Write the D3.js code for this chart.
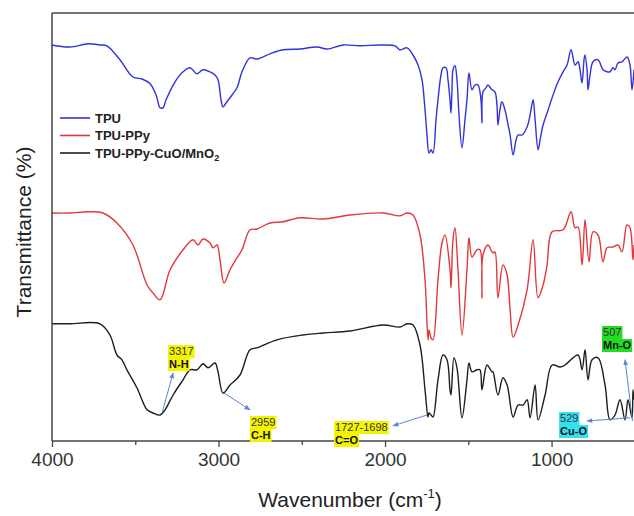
<!DOCTYPE html>
<html><head><meta charset="utf-8">
<script src="https://cdn.jsdelivr.net/npm/d3@7"></script>
<style>body{margin:0;background:#fff}svg{display:block}</style>
</head><body>
<svg id="c" width="634" height="516"></svg>
<script>
const seriesNames = ["TPU", "TPU-PPy", "TPU-PPy-CuO/MnO2"];
const seriesColors = ["#3232dc", "#e2383a", "#1e1e1e"];
const xTicks = [4000, 3000, 2000, 1000];
const xMinorTicks = [3500, 2500, 1500];

// [wavenumber cm-1, transmittance (offset, a.u.)]
const tpu = [[4000,99.0],[3892,98.5],[3784,99.3],[3712,99.0],[3670,98.8],[3592,95.3],[3514,91.0],[3459,90.5],[3411,89.3],[3375,86.5],[3351,83.3],[3333,83.3],[3315,85.3],[3261,89.8],[3213,92.3],[3171,93.3],[3129,91.8],[3093,92.8],[3051,92.3],[3021,91.5],[3003,90.3],[2985,85.3],[2973,83.5],[2955,84.5],[2919,86.5],[2889,88.3],[2859,92.3],[2811,95.8],[2769,95.5],[2691,96.8],[2613,97.8],[2511,98.0],[2408,98.5],[2348,98.0],[2252,99.0],[2150,98.8],[2030,99.0],[1940,98.8],[1910,97.8],[1868,98.3],[1832,96.5],[1802,94.0],[1778,90.3],[1760,82.8],[1748,76.5],[1736,72.0],[1724,72.8],[1712,72.0],[1694,80.3],[1682,85.3],[1664,91.5],[1652,93.3],[1634,93.3],[1622,90.3],[1610,85.3],[1604,82.0],[1598,87.8],[1592,92.8],[1580,93.8],[1568,90.3],[1556,81.5],[1538,73.3],[1520,80.3],[1508,85.3],[1496,92.0],[1478,87.8],[1460,89.0],[1442,89.0],[1424,85.3],[1418,79.5],[1412,87.3],[1394,88.3],[1382,89.0],[1358,87.8],[1340,87.3],[1328,84.0],[1322,79.0],[1310,82.8],[1298,84.8],[1280,82.8],[1261,79.0],[1249,76.5],[1231,71.5],[1213,75.3],[1201,76.5],[1177,76.5],[1147,78.5],[1129,81.5],[1111,85.3],[1099,80.3],[1081,72.8],[1069,75.3],[1051,79.0],[1027,82.0],[991,86.5],[961,89.8],[931,92.3],[907,94.0],[883,97.8],[859,94.0],[841,94.8],[829,92.8],[817,89.5],[805,95.3],[799,96.5],[787,92.8],[781,87.8],[769,91.5],[751,94.8],[721,95.3],[691,92.8],[667,92.3],[649,92.3],[631,93.3],[619,92.8],[601,94.5],[577,94.8],[547,96.0],[529,94.0],[517,87.8],[505,92.8]];

const tpuPPy = [[4000,57.0],[3892,57.0],[3784,57.3],[3694,57.0],[3610,54.5],[3514,49.0],[3429,39.0],[3393,37.0],[3351,35.3],[3291,42.8],[3213,47.8],[3153,50.3],[3123,49.0],[3093,50.5],[3051,49.5],[3033,48.3],[3009,49.0],[2991,45.3],[2967,39.5],[2931,42.8],[2889,45.8],[2859,47.8],[2811,52.8],[2769,53.0],[2691,54.5],[2613,54.8],[2511,55.8],[2372,55.5],[2210,56.5],[2012,57.0],[1910,56.3],[1868,57.0],[1832,56.5],[1790,51.5],[1760,40.3],[1742,25.3],[1736,27.8],[1724,25.8],[1712,25.3],[1682,40.3],[1658,49.5],[1640,51.5],[1610,42.8],[1604,38.3],[1592,50.3],[1580,53.3],[1562,42.8],[1538,26.5],[1508,42.8],[1496,50.8],[1478,46.0],[1448,47.8],[1430,47.8],[1418,35.8],[1412,46.5],[1382,49.0],[1352,47.0],[1340,47.3],[1322,35.8],[1292,44.0],[1267,41.5],[1249,32.8],[1231,26.0],[1201,29.0],[1147,37.8],[1111,50.3],[1081,35.8],[1051,39.0],[1027,44.0],[997,52.3],[931,52.8],[883,57.3],[859,53.3],[841,53.5],[817,44.0],[799,55.3],[775,44.8],[751,52.3],[721,51.5],[691,44.8],[667,48.3],[631,48.5],[601,49.0],[577,47.3],[547,54.0],[529,53.3],[511,45.3],[505,49.0]];

const tpuPPyCuMn = [[4000,29.3],[3892,29.3],[3712,29.3],[3652,26.5],[3610,21.5],[3580,20.3],[3550,17.8],[3490,13.3],[3429,7.8],[3393,7.0],[3351,6.5],[3321,7.8],[3273,11.5],[3213,15.3],[3171,17.8],[3129,17.8],[3093,19.3],[3063,18.3],[3021,19.5],[3003,17.3],[2973,12.0],[2931,14.0],[2871,16.5],[2811,22.8],[2769,23.3],[2649,25.3],[2493,26.5],[2372,27.0],[2210,27.5],[2012,29.0],[1910,28.5],[1868,29.3],[1832,29.0],[1790,24.0],[1760,12.8],[1742,6.0],[1736,7.0],[1724,6.5],[1712,6.0],[1682,15.3],[1652,21.5],[1628,20.3],[1610,12.8],[1604,11.5],[1586,20.8],[1568,18.3],[1538,5.8],[1508,15.3],[1496,19.5],[1478,17.3],[1448,17.8],[1430,17.8],[1418,12.8],[1388,19.0],[1358,17.3],[1352,17.3],[1322,11.5],[1292,15.8],[1267,14.0],[1231,6.0],[1201,9.0],[1171,9.0],[1147,10.3],[1129,5.8],[1099,14.0],[1081,5.3],[1039,11.5],[997,19.0],[949,18.5],[919,19.0],[841,21.5],[817,17.8],[799,22.8],[781,15.3],[757,20.3],[721,20.8],[679,14.0],[649,5.3],[619,6.5],[589,10.3],[559,5.3],[541,10.3],[517,5.8],[511,12.8],[505,10.3]];

// annotations: value text, bond, box colour, arrow tail (on curve), arrow head, label anchor (wavenumber, T)
const annoValues = ["3317", "2959", "1727-1698", "529", "507"];
const annoBonds = ["N-H", "C-H", "C=O", "Cu-O", "Mn-O"];
const annoFills = ["#f4f400", "#f4f400", "#f4f400", "#35e0f0", "#22dd22"];
const annoTail = [[3339,7.0],[2967,12.0],[1748,6.5],[529,5.8],[514,5.0]];
const annoHead = [[3273,17.0],[2811,7.8],[1952,3.8],[787,5.0],[559,20.3]];
const annoLabel = [[3297,21.5],[2805,3.75],[2300,2.5],[949,4.75],[691,26.25]];

const W = 634, H = 516;
const m = {l: 52, r: 0, t: 13, b: 75};
const svg = d3.select("#c");
const x = d3.scaleLinear().domain([4000, 505]).range([m.l, W - m.r]);
const y = d3.scaleLinear().domain([0, 107]).range([H - m.b, m.t]);

svg.append("defs").append("marker").attr("id","arr").attr("viewBox","0 0 10 10")
  .attr("refX",9).attr("refY",5).attr("markerWidth",6).attr("markerHeight",6).attr("orient","auto")
  .append("path").attr("d","M0,1 L10,5 L0,9 z").attr("fill","#5b84d6");

const line = d3.line().x(d => x(d[0])).y(d => y(d[1])).curve(d3.curveCatmullRom.alpha(0.5));
[tpu, tpuPPy, tpuPPyCuMn].forEach((s, i) => {
  svg.append("path").datum(s).attr("d", line).attr("fill","none")
    .attr("stroke", seriesColors[i]).attr("stroke-width", 1.4).attr("stroke-linejoin","round");
});

// frame
const frameC = "#444";
svg.append("line").attr("x1", m.l).attr("x2", W).attr("y1", m.t).attr("y2", m.t).attr("stroke", frameC).attr("stroke-width", 1.5);
svg.append("line").attr("x1", m.l).attr("x2", m.l).attr("y1", m.t).attr("y2", H - m.b).attr("stroke", frameC).attr("stroke-width", 1.5);

const gx = svg.append("g").attr("transform", `translate(0,${H - m.b})`)
  .call(d3.axisBottom(x).tickValues(xTicks).tickSize(6).tickPadding(6).tickFormat(d3.format("d")));
gx.select(".domain").attr("stroke", frameC).attr("stroke-width", 1.5).attr("d", `M${m.l},0H${W}`);
gx.selectAll(".tick line").attr("stroke", frameC).attr("stroke-width", 1.3);
gx.selectAll("text").attr("font-family","Liberation Sans, Arial, sans-serif").attr("font-size", 19).attr("fill","#333");
const gm = svg.append("g").attr("transform", `translate(0,${H - m.b})`)
  .call(d3.axisBottom(x).tickValues(xMinorTicks).tickSize(4).tickFormat(""));
gm.select(".domain").remove();
gm.selectAll(".tick line").attr("stroke", frameC).attr("stroke-width", 1.3);

// axis titles
const xt = svg.append("text").attr("x", 350).attr("y", 507).attr("text-anchor","middle")
  .attr("font-family","Liberation Sans, Arial, sans-serif").attr("font-size", 21).attr("fill","#222");
xt.append("tspan").text("Wavenumber (cm");
xt.append("tspan").text("-1").attr("font-size", 13).attr("dy", -9);
xt.append("tspan").text(")").attr("dy", 9);
svg.append("text").attr("transform","translate(31,232) rotate(-90)").attr("text-anchor","middle")
  .attr("font-family","Liberation Sans, Arial, sans-serif").attr("font-size", 21).attr("fill","#222")
  .text("Transmittance (%)");

// legend
const lg = svg.append("g").attr("font-family","Liberation Sans, Arial, sans-serif").attr("font-weight","bold").attr("font-size", 13);
seriesNames.forEach((n, i) => {
  const yy = 118 + i * 17.5;
  lg.append("line").attr("x1", 60).attr("x2", 90).attr("y1", yy).attr("y2", yy)
    .attr("stroke", seriesColors[i]).attr("stroke-width", 1.6);
  const t = lg.append("text").attr("x", 95).attr("y", yy + 4.5).attr("fill","#222");
  if (n.endsWith("2")) {
    t.append("tspan").text(n.slice(0, -1));
    t.append("tspan").text("2").attr("font-size", 9).attr("dy", 3);
  } else t.text(n);
});

// annotations
const ag = svg.append("g").attr("font-family","Liberation Sans, Arial, sans-serif").attr("font-size", 11);
annoValues.forEach((v, i) => {
  svg.append("line").attr("x1", x(annoTail[i][0])).attr("y1", y(annoTail[i][1]))
    .attr("x2", x(annoHead[i][0])).attr("y2", y(annoHead[i][1]))
    .attr("stroke","#5b84d6").attr("stroke-width", 1).attr("marker-end","url(#arr)");
  const lx = x(annoLabel[i][0]), ly = y(annoLabel[i][1]);
  const g = ag.append("g");
  const t1 = g.append("text").attr("x", lx).attr("y", ly).attr("fill","#333").text(v);
  const t2 = g.append("text").attr("x", lx).attr("y", ly + 13).attr("font-weight","bold").attr("fill","#111").text(annoBonds[i]);
  [t1, t2].forEach((s, k) => {
    const w = s.node().getComputedTextLength();
    g.insert("rect", "text").attr("x", lx - 1).attr("y", ly - 10 + k * 13).attr("width", w + 2).attr("height", 13)
      .attr("fill", annoFills[i]);
  });
});
</script>
</body></html>
